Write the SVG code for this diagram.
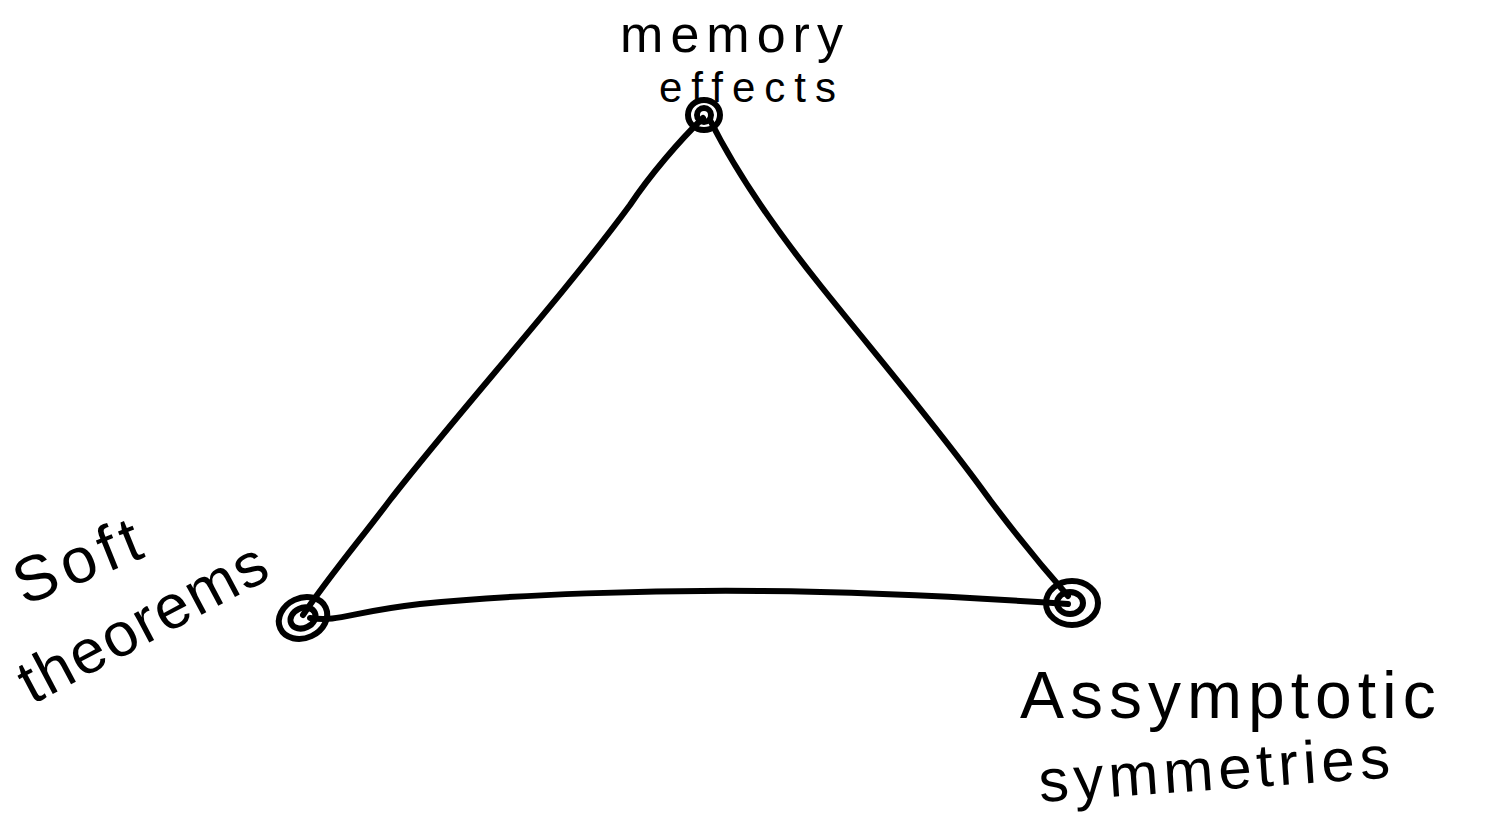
<svg xmlns="http://www.w3.org/2000/svg" width="1511" height="816" viewBox="0 0 1511 816">
<style>
.edge{fill:none;stroke:#000;stroke-width:6;stroke-linecap:round;stroke-linejoin:round}
.node{fill:none;stroke:#000;stroke-width:6}
.lbl{font-family:"Liberation Sans",sans-serif;fill:#000}
</style>
<rect width="1511" height="816" fill="#fff"/>
<g id="connectors">
<path class="edge" d="M703,118 C680,140 650,175 630,205 C560,300 460,410 390,500 C360,540 330,575 303,615"/>
<path class="edge" d="M710,120 C730,160 760,210 820,285 C880,360 940,430 990,500 C1020,540 1045,570 1068,596"/>
<path class="edge" d="M310,618 C340,622 350,612 420,604 C520,594 650,590 760,591 C880,592 980,598 1068,604"/>
</g>
<g id="node-memory">
<ellipse class="node" cx="704" cy="115" rx="16" ry="15"/>
<ellipse class="node" cx="704" cy="115" rx="7" ry="7"/>
<text class="lbl" x="735" y="52" font-size="52" letter-spacing="7" text-anchor="middle">memory</text>
<text class="lbl" x="752" y="102" font-size="42" text-anchor="middle" letter-spacing="9">effects</text>
</g>
<g id="node-soft">
<ellipse class="node" cx="303" cy="618" rx="25" ry="20" transform="rotate(-25 303 618)"/>
<ellipse class="node" cx="303" cy="618" rx="13" ry="10" transform="rotate(-25 303 618)"/>
<text class="lbl" font-size="64" letter-spacing="6" transform="translate(24,606) rotate(-22)">Soft</text>
<text class="lbl" font-size="62" letter-spacing="2" transform="translate(32,705) rotate(-28)">theorems</text>
</g>
<g id="node-asym">
<ellipse class="node" cx="1072" cy="603" rx="26" ry="22"/>
<ellipse class="node" cx="1070" cy="603" rx="13" ry="11"/>
<text class="lbl" x="1020" y="718" font-size="66" letter-spacing="6">Assymptotic</text>
<text class="lbl" font-size="60" letter-spacing="5" transform="translate(1040,802) rotate(-4)">symmetries</text>
</g>
</svg>
